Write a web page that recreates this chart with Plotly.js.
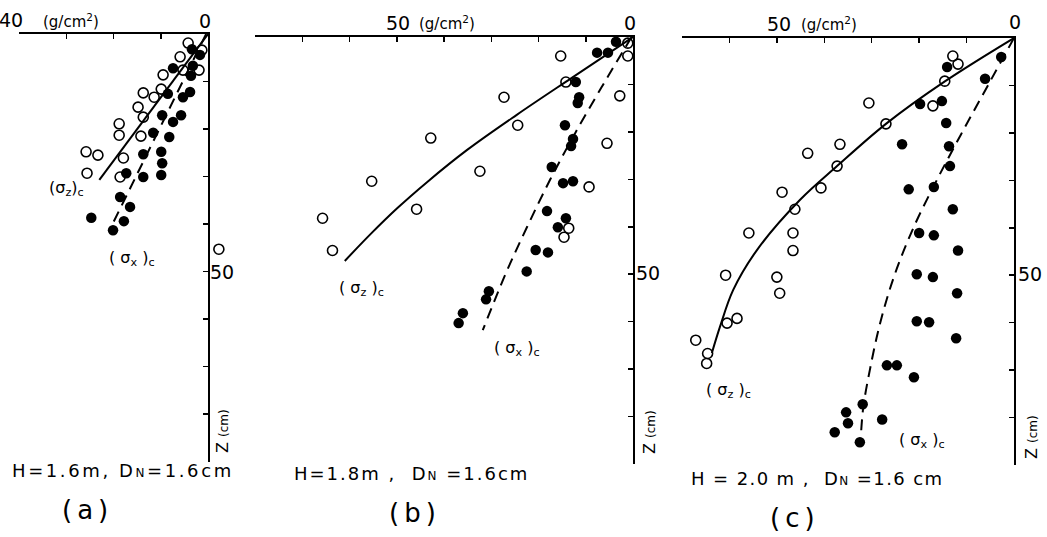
<!DOCTYPE html>
<html><head><meta charset="utf-8">
<script src="https://cdn.plot.ly/plotly-3.0.1.min.js"></script>
<style>html,body{margin:0;padding:0;background:#fff}#chart{width:1047px;height:537px}</style>
</head><body><div id="chart"></div>
<script>
// ---------- data (stress in g/cm^2, depth Z in cm) ----------
// panel (a) H=1.6 m
const aOpenX = [4.2,1.3,5.9,5.3,1.9,9.5,9.9,13.7,11.4,14.8,13.7,18.8,18.8,14.2,25.8,23.3,17.9,25.6,18.6];
const aOpenZ = [1.9,3.4,4.8,7.6,7.6,8.6,11.6,12.4,13.3,15.4,17.5,18.9,21.3,21.5,24.8,25.5,26.1,29.3,30.1];
const aStrayX = [-2.3];
const aStrayZ = [45.3];
const aFillX = [3.4,1.7,3.2,7.4,3.6,3.8,8.5,5.3,5.7,9.7,7.4,11.6,8.2,9.9,13.7,9.7,17.3,13.7,9.9,18.6,16.5,24.7,17.8,20.1];
const aFillZ = [3.2,4.4,6.7,7.2,8.8,12.2,12.6,13.3,17.1,17.1,18.5,20.8,21.7,24.8,25.3,27.2,29.3,30.1,29.7,34.3,36.4,38.7,39.4,41.3];
const aSolidX = [0, 23.0];
const aSolidZ = [0, 30.7];
const aDashX = [0.4, 20.5];
const aDashZ = [0, 40.6];

// panel (b) H=1.8 m
const bOpenX = [1.1,1.1,15.3,14.2,2.8,27.3,24.4,42.8,5.5,32.4,55.3,9.3,45.8,65.7,13.6,14.6,63.6];
const bOpenZ = [1.3,4.0,4.0,9.5,12.4,12.7,18.6,21.3,22.4,28.3,30.4,31.6,36.3,38.2,40.3,42.2,45.0];
const bFillX = [3.6,7.6,5.3,12.1,11.4,11.7,14.4,12.7,13.1,17.2,14.8,12.7,18.2,14.2,15.9,20.6,18.0,22.5,30.5,31.1,36.0,36.9];
const bFillZ = [1.0,3.3,3.3,9.5,12.7,13.9,18.6,21.5,23.0,27.4,30.8,30.4,36.7,38.2,40.1,44.9,45.4,49.4,53.6,55.3,58.2,60.3];
const bSolidX = [0, 12.8, 24.6, 35.1, 43.6, 49.8, 55.5, 61.0];
const bSolidZ = [0, 8.5, 16.4, 23.8, 30.6, 36.0, 41.5, 47.2];
const bDashX = [0.3, 6.3, 12.1, 17.5, 22.4, 27.0, 31.8];
const bDashZ = [0, 10, 20, 30, 40, 50, 61.8];

// panel (c) H=2.0 m
const cOpenX = [12.9,11.8,14.6,30.6,17.1,27.0,36.7,43.5,37.3,40.7,48.9,46.2,55.9,46.6,46.6,60.8,50.0,49.4,58.4,60.5,67.1,64.6,64.8];
const cOpenZ = [3.8,5.5,9.1,13.7,14.3,18.1,22.4,24.3,27.0,31.6,32.5,36.1,41.1,41.1,44.8,50.0,50.4,53.8,59.1,60.1,63.7,66.5,68.6];
const cFillX = [2.7,14.1,6.1,19.8,15.2,14.3,23.6,13.7,13.5,22.2,16.9,12.9,20.0,16.9,11.8,20.5,17.1,12.0,20.5,17.9,12.2,26.8,24.7,21.1,31.9,35.4,35.0,27.8,37.8,32.5];
const cFillZ = [4.0,6.1,8.6,13.9,13.3,17.9,22.4,22.8,27.0,31.9,31.4,36.1,41.1,41.6,44.8,49.8,50.4,53.8,59.7,59.9,63.3,69.0,69.0,71.5,77.2,78.9,81.2,80.4,83.1,85.2];
const cSolidX = [0, 14.5, 27.0, 37.3, 45.1, 54.2, 59.2, 62.0, 63.7];
const cSolidZ = [0, 9.1, 18.1, 27.0, 34.1, 44.7, 53.1, 60.9, 66.4];
const cDashX = [0, 5.5, 11.0, 16.3, 21.2, 25.2, 28.2, 30.4, 31.8, 32.3];
const cDashZ = [0, 10, 20, 30, 40, 50, 60, 70, 78, 84.2];

// ticks
const aXTicks = [0,10,20,30,40];
const bXTicks = [0,10,20,30,40,50,60,70,80];
const cXTicks = [0,10,20,30,40,50,60,70];
const zTicks = [0,10,20,30,40,50,60,70,80,90];

// ---------- layout helpers ----------
const W = 1047, H = 537;
const F = 'DejaVu Sans';
function xax(p0, p1, maxv, tv, anchor) {
  return {domain:[p0/W, p1/W], range:[maxv, 0], side:'top', anchor:anchor,
    showline:true, linecolor:'#000', linewidth:2, ticks:'inside', ticklen:5, tickwidth:1.5,
    tickcolor:'#000', tickvals:tv, showticklabels:false, showgrid:false, zeroline:false, fixedrange:true};
}
function yax(p0, p1, tv, anchor) {
  return {domain:[1 - p1/H, 1 - p0/H], range:[90, 0], side:'right', anchor:anchor,
    showline:true, linecolor:'#000', linewidth:2, ticks:'inside', ticklen:5, tickwidth:1.5,
    tickcolor:'#000', tickvals:tv, showticklabels:false, showgrid:false, zeroline:false, fixedrange:true};
}
function A(text, px, py, size, extra) {
  return Object.assign({text:text, x:px/W, y:1 - py/H, xref:'paper', yref:'paper', showarrow:false,
    xanchor:'center', yanchor:'middle', font:{family:F, size:size, color:'#000'}}, extra || {});
}
function sp(t, ls) { return '<span style="letter-spacing:' + ls + 'px">' + t + '</span>'; }
function openTr(x, y, xa, ya) {
  return {x:x, y:y, xaxis:xa, yaxis:ya, mode:'markers', type:'scatter', cliponaxis:false,
    marker:{symbol:'circle-open', size:10, color:'#000', line:{width:1.6, color:'#000'}}, hoverinfo:'none'};
}
function fillTr(x, y, xa, ya) {
  return {x:x, y:y, xaxis:xa, yaxis:ya, mode:'markers', type:'scatter', cliponaxis:false,
    marker:{symbol:'circle', size:10.5, color:'#000'}, hoverinfo:'none'};
}
function lineTr(x, y, xa, ya, dash) {
  return {x:x, y:y, xaxis:xa, yaxis:ya, mode:'lines', type:'scatter', cliponaxis:false,
    line:{color:'#000', width:2, dash:dash, shape:'spline', smoothing:1}, hoverinfo:'none'};
}

const DASH = '11px,7px';
const data = [
  lineTr(aSolidX, aSolidZ, 'x', 'y', 'solid'), lineTr(aDashX, aDashZ, 'x', 'y', DASH),
  openTr(aOpenX, aOpenZ, 'x', 'y'), fillTr(aFillX, aFillZ, 'x', 'y'),
  openTr(aStrayX, aStrayZ, 'x4', 'y'),
  lineTr(bSolidX, bSolidZ, 'x2', 'y2', 'solid'), lineTr(bDashX, bDashZ, 'x2', 'y2', DASH),
  openTr(bOpenX, bOpenZ, 'x2', 'y2'), fillTr(bFillX, bFillZ, 'x2', 'y2'),
  lineTr(cSolidX, cSolidZ, 'x3', 'y3', 'solid'), lineTr(cDashX, cDashZ, 'x3', 'y3', DASH),
  openTr(cOpenX, cOpenZ, 'x3', 'y3'), fillTr(cFillX, cFillZ, 'x3', 'y3')
];

const gcm = '(g/cm<sup>2</sup>)';
const zlab = 'Z <span style="font-size:12px">(cm)</span>';
const N = '<span style="font-size:12px">N</span>';
const sz = '(σ<sub>z</sub>)<sub>c</sub>';
const sx = '( σ<sub>x</sub> )<sub>c</sub>';
const szs = '( σ<sub>z</sub> )<sub>c</sub>';

const annotations = [
  // panel (a)
  A('40', 11, 20, 19), A(gcm, 71, 21, 15), A('0', 205, 21, 19),
  A('50', 222, 272, 19), A(zlab, 222, 431, 16, {textangle:-90}),
  A(sz, 66, 188, 16), A(sx, 132, 258, 16),
  A(sp('H=1.6m, D' + N + '=1.6cm', 2.6), 123, 470, 18), A(sp('(a)', 5), 87, 510, 26),
  // panel (b)
  A('50', 398, 23, 19), A(gcm, 447, 23, 15), A('0', 630, 23, 19),
  A('50', 648, 273, 19), A(zlab, 649, 432, 16, {textangle:-90}),
  A(szs, 361, 288, 16), A(sx, 517, 348, 16),
  A(sp('H=1.8m ,  D' + N + ' =1.6cm', 2.0), 412, 473, 18), A(sp('(b)', 5), 415, 513, 26),
  // panel (c)
  A('50', 779, 24, 19), A(gcm, 829, 24, 15), A('0', 1015, 22, 19),
  A('50', 1030, 274, 19), A(zlab, 1031, 437, 16, {textangle:-90}),
  A(szs, 728, 390, 16), A(sx, 922, 440, 16),
  A(sp('H = 2.0 m ,  D' + N + ' =1.6 cm', 1.4), 817, 478, 18), A(sp('(c)', 5), 795, 518, 26)
];

const layout = {
  width:W, height:H, margin:{l:0, r:0, t:0, b:0}, showlegend:false,
  paper_bgcolor:'#fff', plot_bgcolor:'rgba(0,0,0,0)',
  font:{family:F, color:'#000'},
  xaxis: xax(19, 208, 40, aXTicks, 'y'),
  yaxis: yax(34, 461.5, zTicks, 'x'),
  xaxis2: xax(255, 633, 80, bXTicks, 'y2'),
  yaxis2: yax(37, 464, zTicks, 'x2'),
  xaxis3: xax(682, 1014, 70, cXTicks, 'y3'),
  yaxis3: yax(38, 465, zTicks, 'x3'),
  // hidden helper axis sharing panel (a)'s scale, extended past 0 for the stray point
  xaxis4: {domain:[19/W, 236/W], range:[40, 40 - 217/(189/40)], anchor:'y', visible:false, fixedrange:true},
  annotations: annotations
};
Plotly.newPlot('chart', data, layout, {staticPlot:true, displayModeBar:false});
</script>
</body></html>
